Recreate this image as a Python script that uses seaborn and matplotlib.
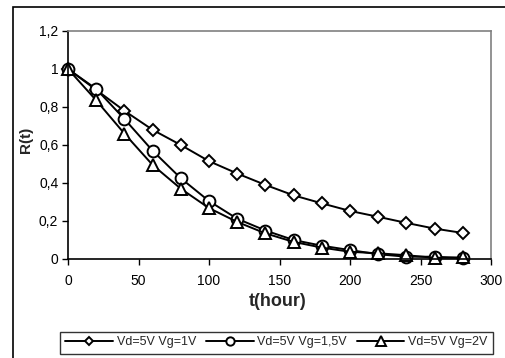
import numpy as np
import pandas as pd
import matplotlib
matplotlib.use("Agg")
import matplotlib.pyplot as plt
from matplotlib.ticker import FuncFormatter
from matplotlib.patches import Rectangle
import seaborn as sns

t_hours = [0, 20, 40, 60, 80, 100, 120, 140, 160, 180, 200, 220, 240, 260, 280]
r_vg1 = [1.0, 0.89, 0.78, 0.68, 0.60, 0.515, 0.45, 0.39, 0.335, 0.293, 0.253, 0.222, 0.19, 0.16, 0.137]
r_vg15 = [1.0, 0.895, 0.737, 0.57, 0.425, 0.305, 0.212, 0.15, 0.10, 0.07, 0.047, 0.025, 0.012, 0.012, 0.005]
r_vg2 = [1.0, 0.835, 0.66, 0.495, 0.37, 0.268, 0.195, 0.135, 0.09, 0.06, 0.038, 0.03, 0.02, 0.006, 0.008]
series_names = ["Vd=5V Vg=1V", "Vd=5V Vg=1,5V", "Vd=5V Vg=2V"]
x_ticks = [0, 50, 100, 150, 200, 250, 300]
y_ticks = [0, 0.2, 0.4, 0.6, 0.8, 1.0, 1.2]

df = pd.concat([
    pd.DataFrame({"t": t_hours, "R": vals, "series": name})
    for name, vals in zip(series_names, [r_vg1, r_vg15, r_vg2])
])

sns.set_style("white")
plt.rcParams["font.family"] = ["Liberation Sans", "DejaVu Sans"]

W, H = 506, 358
fig = plt.figure(figsize=(W / 100, H / 100), dpi=100)
fig.patch.set_facecolor("white")
ax = fig.add_axes([68 / W, 1 - 259 / H, (491 - 68) / W, (259 - 31) / H])

# outer frame of the original chart area
fig.patches.append(Rectangle((13 / W, -0.05), 1.2, 1 - 7 / H + 0.05,
                             transform=fig.transFigure, fill=False,
                             edgecolor="black", linewidth=1.2, zorder=0))

markers = {series_names[0]: "D", series_names[1]: "o", series_names[2]: "^"}
sns.lineplot(data=df, x="t", y="R", style="series", markers=markers,
             dashes=False, color="black", linewidth=1.4, markersize=8,
             markerfacecolor="white", markeredgecolor="black",
             markeredgewidth=1.4, ax=ax, legend=True, clip_on=False)

main_sizes = {"D": 6.5, "o": 8.5, "^": 8.5}
for line in ax.lines:
    m = line.get_marker()
    if m in main_sizes:
        line.set_markersize(main_sizes[m])

ax.set_xlim(0, 300)
ax.set_ylim(0, 1.2)
ax.set_xticks(x_ticks)
ax.set_yticks(y_ticks)
fmt = FuncFormatter(lambda v, p: ("%g" % round(v, 2)).replace(".", ","))
ax.xaxis.set_major_formatter(fmt)
ax.yaxis.set_major_formatter(fmt)
ax.tick_params(axis="both", labelsize=10, colors="black", direction="out",
               length=4, width=1)
ax.tick_params(axis="x", bottom=True, pad=7)
ax.tick_params(axis="y", left=True, pad=3)

for s in ["left", "bottom"]:
    ax.spines[s].set_color("black")
    ax.spines[s].set_linewidth(1.2)
for s in ["top", "right"]:
    ax.spines[s].set_color("#808080")
    ax.spines[s].set_linewidth(1.2)

ax.set_xlabel("")
ax.set_ylabel("")
fig.text(278 / W, 1 - 302 / H, "t(hour)", fontsize=13, fontweight="bold",
         ha="center", va="center")
fig.text(26 / W, 1 - 140 / H, "R(t)", fontsize=11, fontweight="bold",
         ha="center", va="center", rotation=90)

handles, labels = ax.get_legend_handles_labels()
leg = ax.legend(handles, labels, ncol=3, loc="center",
                bbox_to_anchor=(276.5 / W, 1 - 342.5 / H),
                bbox_transform=fig.transFigure, fontsize=9,
                frameon=True, fancybox=False, edgecolor="black",
                handlelength=3.8, columnspacing=0.8, handletextpad=0.3,
                borderpad=0.4, borderaxespad=0)
leg.get_frame().set_linewidth(1.0)
leg_sizes = {"D": 4.5, "o": 6, "^": 6.5}
for lh in leg.legend_handles:
    lh.set_color("black")
    lh.set_markerfacecolor("white")
    lh.set_markeredgecolor("black")
    lh.set_markeredgewidth(1.4)
    m = lh.get_marker()
    if m in leg_sizes:
        lh.set_markersize(leg_sizes[m])

fig.savefig("out.png", dpi=100, facecolor="white")
